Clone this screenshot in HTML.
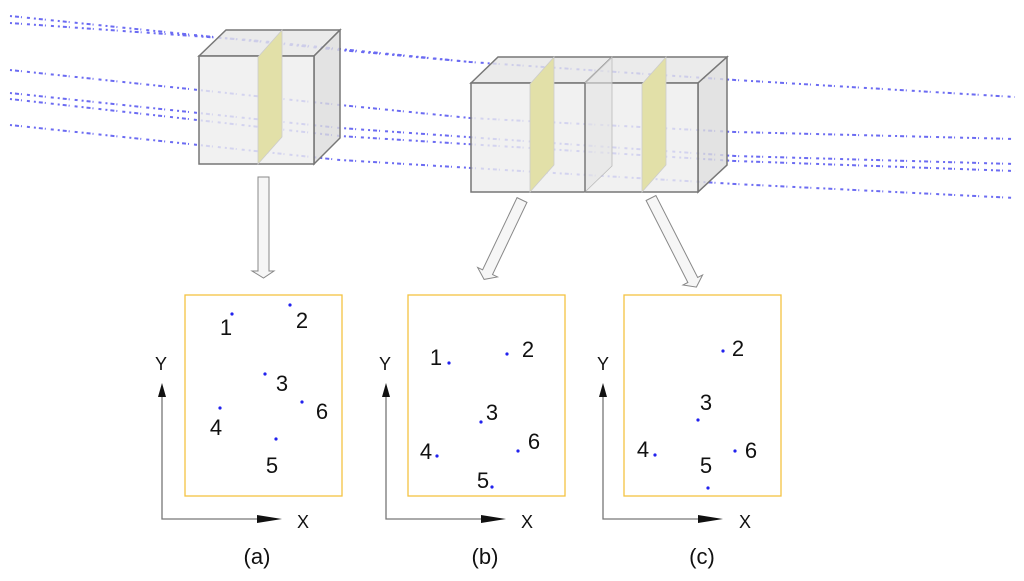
<!DOCTYPE html>
<html><head><meta charset="utf-8"><style>
body{margin:0;background:#fff;width:1024px;height:576px;overflow:hidden}
svg text{font-family:"Liberation Sans",sans-serif;fill:#111}
</style></head><body>
<svg width="1024" height="576" viewBox="0 0 1024 576">
<g stroke="#3a3aee" stroke-width="2" stroke-dasharray="2 3 4 2 1 5 3 4" fill="none" opacity="0.75">
<polyline points="10,16 340,50 470,62 735,80 1015,97"/>
<polyline points="10,23 250,40 470,62"/>
<polyline points="10,70 340,105 470,118 735,132 1015,139"/>
<polyline points="10,93 340,128 735,156 1015,164"/>
<polyline points="10,99 340,136 735,161 1015,171"/>
<polyline points="10,125 340,160 735,184 1015,198"/>
</g>
<!-- cube 1 -->
<g stroke="#777" stroke-width="1.5">
<polygon points="199,56 226,30 340,30 314,56" fill="#e6e6e6" fill-opacity="0.8"/>
<polygon points="314,56 340,30 340,138 314,164" fill="#dcdcdc" fill-opacity="0.8"/>
<polygon points="199,56 314,56 314,164 199,164" fill="#eeeeee" fill-opacity="0.8"/>
<polygon points="258,57 282,30 282,137 258,164" fill="#e2e0a8" stroke="#ccc" stroke-width="0.8"/>
</g>
<!-- cube 2 -->
<g stroke="#777" stroke-width="1.5">
<polygon points="471,83 498,57 727,57 698,83" fill="#e6e6e6" fill-opacity="0.8"/>
<polygon points="698,83 727,57 727,165 698,192" fill="#dcdcdc" fill-opacity="0.8"/>
<polygon points="471,83 698,83 698,192 471,192" fill="#eeeeee" fill-opacity="0.8"/>
<line x1="585" y1="83" x2="612" y2="57"/>
<polygon points="585,192 612,166 612,57 585,83" fill="#e4e4e4" fill-opacity="0.6" stroke="#bbb" stroke-width="0.8"/>
<line x1="585" y1="83" x2="585" y2="192"/>
<polygon points="530,84 554,57 554,165 530,192" fill="#e2e0a8" stroke="#ccc" stroke-width="0.8"/>
<polygon points="642,84 666,57 666,165 642,192" fill="#e2e0a8" stroke="#ccc" stroke-width="0.8"/>
</g>
<!-- hollow arrows -->
<g fill="#f6f6f6" stroke="#888" stroke-width="1">
<polygon points="258,177 269,177 269,271 274,271 263.5,278 252,271 258,271"/>
<g transform="translate(522,200) rotate(25.5)"><polygon points="-5.5,0 5.5,0 5.5,80 11,80 0,88 -11,80 -5.5,80"/></g>
<g transform="translate(651,198) rotate(-27)"><polygon points="-5.5,0 5.5,0 5.5,92 11,92 0,100 -11,92 -5.5,92"/></g>
</g>
<!-- boxes -->
<g fill="none" stroke="#f5c242" stroke-width="1.3">
<rect x="185" y="295" width="157" height="201"/>
<rect x="408" y="295" width="157" height="201"/>
<rect x="624" y="295" width="157" height="201"/>
</g>
<!-- axes -->
<g stroke="#777" stroke-width="1.3" fill="#111">
<polyline points="162,390 162,519 275,519" fill="none"/>
<polygon points="162,383 158,397 166,397" stroke="none"/>
<polygon points="282,519 257,515 257,523" stroke="none"/>
<polyline points="386,390 386,519 499,519" fill="none"/>
<polygon points="386,383 382,397 390,397" stroke="none"/>
<polygon points="506,519 481,515 481,523" stroke="none"/>
<polyline points="603,390 603,519 716,519" fill="none"/>
<polygon points="603,383 599,397 607,397" stroke="none"/>
<polygon points="723,519 698,515 698,523" stroke="none"/>
</g>
<g font-size="18" text-anchor="middle">
<text x="161" y="370">Y</text><text x="303" y="528">X</text>
<text x="385" y="370">Y</text><text x="527" y="528">X</text>
<text x="603" y="370">Y</text><text x="745" y="528">X</text>
</g>
<!-- dots -->
<g fill="#2222ee">
<circle cx="232" cy="314" r="1.6"/><circle cx="290" cy="305" r="1.6"/><circle cx="265" cy="374" r="1.6"/><circle cx="302" cy="402" r="1.6"/><circle cx="220" cy="408" r="1.6"/><circle cx="276" cy="439" r="1.6"/>
<circle cx="449" cy="363" r="1.6"/><circle cx="507" cy="354" r="1.6"/><circle cx="481" cy="422" r="1.6"/><circle cx="518" cy="451" r="1.6"/><circle cx="437" cy="456" r="1.6"/><circle cx="492" cy="487" r="1.6"/>
<circle cx="723" cy="351" r="1.6"/><circle cx="698" cy="420" r="1.6"/><circle cx="655" cy="455" r="1.6"/><circle cx="708" cy="488" r="1.6"/><circle cx="735" cy="451" r="1.6"/>
</g>
<g font-size="22" text-anchor="middle">
<text x="226" y="335">1</text><text x="302" y="328">2</text><text x="282" y="391">3</text><text x="322" y="419">6</text><text x="216" y="435">4</text><text x="272" y="473">5</text>
<text x="436" y="365">1</text><text x="528" y="357">2</text><text x="492" y="420">3</text><text x="534" y="449">6</text><text x="426" y="459">4</text><text x="483" y="488">5</text>
<text x="738" y="356">2</text><text x="706" y="410">3</text><text x="643" y="457">4</text><text x="706" y="473">5</text><text x="751" y="458">6</text>
</g>
<g font-size="22" text-anchor="middle">
<text x="257" y="564">(a)</text><text x="485" y="564">(b)</text><text x="702" y="564">(c)</text>
</g>
</svg>
</body></html>
